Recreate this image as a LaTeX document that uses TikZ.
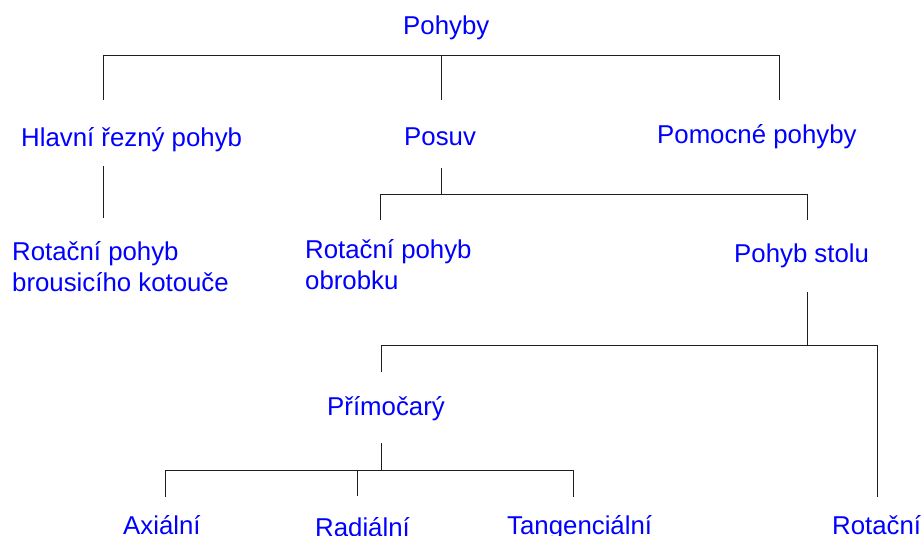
\documentclass[tikz,border=0pt]{standalone}
\usepackage{fontspec}
\setmainfont{Liberation Sans}
\definecolor{txtblue}{RGB}{0,0,255}
\definecolor{linegray}{RGB}{30,30,30}
\begin{document}
\begin{tikzpicture}[x=1pt,y=-1pt,
  lbl/.style={text=txtblue, inner sep=0pt, font=\fontsize{25.8}{31}\selectfont, anchor=base west, align=left},
  conn/.style={draw=linegray, line width=0.9pt}]
\useasboundingbox (0,0) rectangle (922,536);
% text nodes
\node[lbl] (pohyby) at (403,34) {Pohyby};
\node[lbl] (hlavni) at (21,146) {Hlavní řezný pohyb};
\node[lbl] (posuv) at (404,145) {Posuv};
\node[lbl] (pomocne) at (657,143) {Pomocné pohyby};
\node[lbl] (rotkot) at (12,291) {Rotační pohyb\\brousicího kotouče};
\node[lbl] (rotobr) at (305,289) {Rotační pohyb\\obrobku};
\node[lbl] (stul) at (734,262) {Pohyb stolu};
\node[lbl] (primo) at (327,415) {Přímočarý};
\node[lbl] (axi) at (123,534) {Axiální};
\node[lbl] (radi) at (315,536) {Radiální};
\node[lbl] (tang) at (507,534) {Tangenciální};
\node[lbl] (rot) at (832,534) {Rotační};
% connector points
\coordinate (a0) at (441,55);
\coordinate (a1) at (103,55);
\coordinate (a2) at (779,55);
\coordinate (a1e) at (103,100);
\coordinate (a0e) at (441,100);
\coordinate (a2e) at (779,100);
\coordinate (h1) at (103,166);
\coordinate (h2) at (103,218);
\coordinate (p0) at (441,168);
\coordinate (p1) at (441,194);
\coordinate (pl) at (380,194);
\coordinate (pr) at (807,194);
\coordinate (ple) at (380,220);
\coordinate (pre) at (807,220);
\coordinate (s0) at (807,292);
\coordinate (s1) at (807,345);
\coordinate (sl) at (381,345);
\coordinate (sr) at (877,345);
\coordinate (sle) at (381,372);
\coordinate (sre) at (877,497);
\coordinate (m0) at (381,443);
\coordinate (m1) at (381,470);
\coordinate (ml) at (165,470);
\coordinate (mm) at (357,470);
\coordinate (mr) at (573,470);
\coordinate (mle) at (165,497);
\coordinate (mme) at (357,496);
\coordinate (mre) at (573,497);
% connectors
\draw[conn] (a1e) -- (a1) -- (a2) -- (a2e);
\draw[conn] (a0) -- (a0e);
\draw[conn] (h1) -- (h2);
\draw[conn] (p0) -- (p1);
\draw[conn] (ple) -- (pl) -- (pr) -- (pre);
\draw[conn] (s0) -- (s1);
\draw[conn] (sle) -- (sl) -- (sr) -- (sre);
\draw[conn] (m0) -- (m1);
\draw[conn] (mle) -- (ml) -- (mr) -- (mre);
\draw[conn] (mm) -- (mme);
\end{tikzpicture}
\end{document}
